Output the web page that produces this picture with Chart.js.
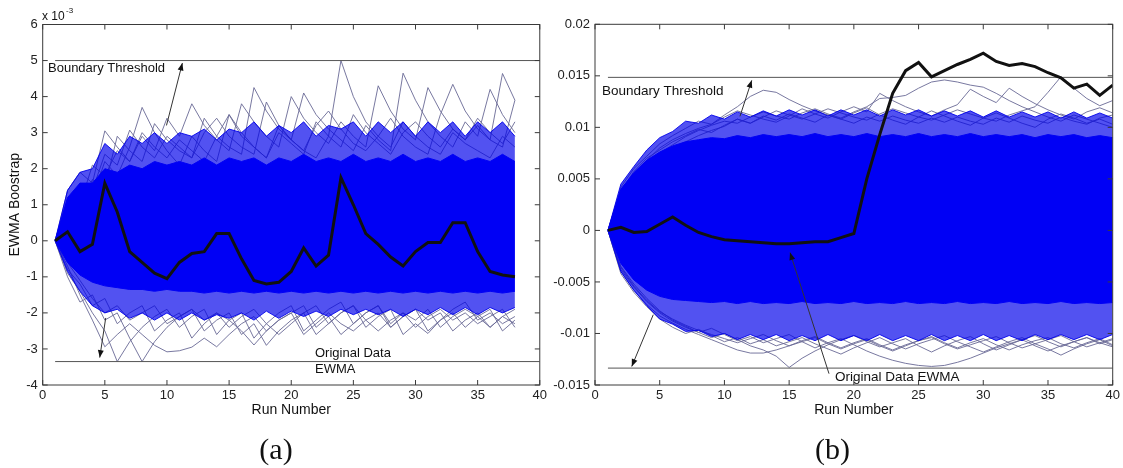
<!DOCTYPE html>
<html><head><meta charset="utf-8">
<script src="https://cdn.jsdelivr.net/npm/chart.js@4.4.1/dist/chart.umd.min.js"></script>
<style>
html,body{margin:0;padding:0;background:#fff;width:1123px;height:468px;overflow:hidden}
#wa{position:absolute;left:0;top:0;width:550px;height:468px}
#wb{position:absolute;left:550px;top:0;width:573px;height:468px}
</style></head><body>
<div id="wa"><canvas id="ca"></canvas></div>
<div id="wb"><canvas id="cb"></canvas></div>
<script>
// ---------- Panel (a) data (values x 1e-3) ----------
const runsA = [1,2,3,4,5,6,7,8,9,10,11,12,13,14,15,16,17,18,19,20,21,22,23,24,25,26,27,28,29,30,31,32,33,34,35,36,37,38];
const ewmaA = [0,0.25,-0.3,-0.1,1.6,0.8,-0.3,-0.6,-0.9,-1.05,-0.6,-0.35,-0.3,0.2,0.2,-0.5,-1.1,-1.2,-1.15,-0.85,-0.2,-0.7,-0.4,1.75,1.0,0.2,-0.1,-0.45,-0.7,-0.3,-0.05,-0.05,0.5,0.5,-0.3,-0.85,-0.95,-1.0];
const thresholdsA = [5.0, -3.35];
const coreHiA = [0,1.2,1.6,1.6,2.0,1.9,2.1,2.0,2.2,2.1,2.2,2.1,2.3,2.1,2.3,2.2,2.3,2.1,2.3,2.2,2.4,2.2,2.3,2.2,2.4,2.2,2.3,2.2,2.4,2.2,2.3,2.2,2.4,2.2,2.3,2.2,2.4,2.2];
const coreLoA = [0,-0.6,-0.95,-1.15,-1.25,-1.3,-1.35,-1.35,-1.4,-1.35,-1.4,-1.4,-1.45,-1.4,-1.45,-1.4,-1.45,-1.4,-1.45,-1.4,-1.45,-1.4,-1.45,-1.4,-1.45,-1.4,-1.45,-1.4,-1.45,-1.4,-1.45,-1.4,-1.45,-1.4,-1.45,-1.4,-1.45,-1.4];
const fringeHiA = [0,1.4,1.9,2.0,2.7,2.4,2.9,2.7,3.0,2.7,3.0,2.9,3.1,2.8,3.1,3.0,3.3,2.9,3.2,3.0,3.3,2.9,3.2,3.1,3.3,2.9,3.3,3.0,3.3,2.9,3.3,3.0,3.3,2.9,3.3,3.0,3.3,2.9];
const fringeLoA = [0,-0.85,-1.4,-1.8,-2.0,-1.9,-2.15,-2.0,-2.2,-2.0,-2.2,-2.0,-2.2,-2.05,-2.15,-2.0,-2.2,-1.95,-2.15,-1.95,-2.1,-1.95,-2.1,-1.9,-2.05,-1.9,-2.05,-1.9,-2.1,-1.9,-2.05,-1.85,-2.05,-1.85,-2.05,-1.85,-2.0,-1.85];
const upA1 = [0,0.9,1.4,1.2,2.2,1.8,2.6,3.7,3.0,2.5,2.1,2.9,2.5,2.2,3.5,2.9,2.6,2.3,3.2,2.8,2.5,2.3,2.9,5.0,4.0,3.3,2.9,2.6,3.3,2.9,2.6,2.4,3.0,2.7,2.5,2.3,2.9,2.6];
const upA2 = [0,1.4,1.9,1.6,3.05,2.6,2.2,2.9,2.5,3.4,2.9,3.8,3.2,2.8,2.5,3.8,3.3,2.9,2.6,4.0,3.4,3.0,2.7,3.3,2.9,2.6,4.3,3.6,3.1,2.8,4.25,3.6,3.1,2.8,3.2,2.8,2.6,3.9];
const upA3 = [0,1.1,0.9,1.7,1.5,2.9,2.5,2.2,3.25,2.8,2.5,2.3,3.4,2.9,2.6,2.4,4.25,3.6,3.1,2.8,4.1,3.5,3.1,2.8,2.5,3.2,2.8,2.5,4.65,3.9,3.3,2.9,2.6,3.3,2.9,4.2,3.5,3.0];
const upA4 = [0,0.8,1.6,1.4,2.4,2.1,3.07,2.6,2.3,2.9,2.6,2.3,3.0,3.4,2.9,2.6,2.4,3.85,3.2,2.8,2.5,3.2,3.6,3.1,2.7,2.5,2.9,3.4,2.9,2.6,2.4,3.5,4.34,3.6,3.1,2.8,4.64,3.9];
const upA5 = [0,1.2,1.0,2.1,1.8,2.5,2.2,3.0,2.6,2.3,2.8,2.5,2.2,2.9,3.5,3.0,2.6,2.3,3.0,2.7,2.4,3.3,2.9,2.6,3.5,3.0,2.7,2.4,3.0,3.3,2.9,2.6,3.1,2.8,3.4,3.0,2.7,3.3];
const loA1 = [0,-0.9,-1.4,-2.0,-2.5,-3.35,-2.8,-2.4,-2.1,-1.9,-2.4,-2.1,-1.9,-2.6,-2.2,-2.0,-2.7,-2.3,-2.0,-1.8,-2.5,-2.2,-1.9,-1.7,-2.3,-2.0,-1.8,-2.4,-2.1,-1.9,-2.5,-2.2,-1.9,-1.7,-2.2,-2.0,-2.3,-2.1];
const loA2 = [0,-1.0,-1.7,-1.5,-2.2,-2.0,-2.7,-3.35,-2.8,-2.4,-2.1,-1.9,-2.5,-2.2,-2.0,-2.6,-2.3,-2.9,-2.5,-2.2,-2.0,-2.6,-2.3,-2.0,-1.8,-2.4,-2.1,-1.9,-2.6,-2.3,-2.57,-2.2,-2.0,-2.4,-2.1,-1.9,-2.5,-2.2];
const loA3 = [0,-0.7,-1.5,-2.2,-2.94,-2.6,-2.3,-2.6,-2.9,-3.08,-3.05,-2.95,-2.7,-2.94,-2.6,-2.3,-2.1,-2.5,-2.2,-2.0,-2.6,-2.3,-2.0,-2.3,-2.5,-2.2,-2.0,-2.4,-2.1,-1.9,-2.2,-2.0,-2.5,-2.2,-2.0,-2.4,-2.1,-2.3];
const loA4 = [0,-0.8,-1.2,-1.8,-1.6,-2.3,-2.0,-1.8,-2.5,-2.2,-2.0,-2.7,-2.3,-2.0,-2.2,-2.5,-2.89,-2.5,-2.2,-2.0,-1.8,-2.4,-2.1,-2.6,-2.3,-2.0,-1.8,-2.3,-2.0,-2.2,-1.9,-2.4,-2.1,-1.9,-2.1,-2.4,-2.1,-1.9];
const loA5 = [0,-0.6,-1.1,-1.6,-2.0,-1.8,-2.2,-2.0,-1.8,-2.3,-2.1,-1.9,-2.2,-2.0,-2.4,-2.1,-1.9,-2.3,-2.6,-2.3,-2.0,-1.8,-2.3,-2.0,-1.8,-2.2,-2.5,-2.2,-2.0,-2.4,-2.1,-1.9,-2.2,-2.0,-2.3,-2.1,-1.9,-2.4];

// ---------- Panel (b) data ----------
const runsB = [1,2,3,4,5,6,7,8,9,10,11,12,13,14,15,16,17,18,19,20,21,22,23,24,25,26,27,28,29,30,31,32,33,34,35,36,37,38,39,40];
const ewmaB = [0,0.0003,-0.0002,-0.0001,0.0006,0.0013,0.0005,-0.0002,-0.0006,-0.0009,-0.001,-0.0011,-0.0012,-0.0013,-0.0013,-0.0012,-0.0011,-0.0011,-0.0007,-0.0003,0.0050,0.0093,0.0133,0.0155,0.0163,0.0149,0.0155,0.0161,0.0166,0.0172,0.0164,0.0160,0.0162,0.0159,0.0153,0.0148,0.0138,0.0142,0.0131,0.0141];
const thresholdsB = [0.01485, -0.01336];
const coreHiB = [0,0.0040,0.0056,0.0068,0.0076,0.0082,0.0086,0.0088,0.0090,0.0089,0.0092,0.0090,0.0093,0.0091,0.0093,0.0091,0.0094,0.0091,0.0093,0.0091,0.0094,0.0091,0.0093,0.0091,0.0094,0.0091,0.0093,0.0091,0.0094,0.0091,0.0093,0.0091,0.0093,0.0090,0.0093,0.0091,0.0093,0.0090,0.0092,0.0090];
const coreLoB = [0,-0.0032,-0.0048,-0.0058,-0.0064,-0.0067,-0.0068,-0.0069,-0.0070,-0.0069,-0.0071,-0.0069,-0.0071,-0.0070,-0.0071,-0.0069,-0.0071,-0.0070,-0.0071,-0.0069,-0.0071,-0.0070,-0.0071,-0.0069,-0.0071,-0.0070,-0.0071,-0.0069,-0.0071,-0.0070,-0.0071,-0.0069,-0.0071,-0.0070,-0.0071,-0.0069,-0.0071,-0.0070,-0.0071,-0.0070];
const fringeHiB = [0,0.0045,0.0062,0.0078,0.0090,0.0096,0.0106,0.0104,0.0112,0.0108,0.0115,0.0110,0.0116,0.0111,0.0117,0.0112,0.0117,0.0111,0.0117,0.0112,0.0117,0.0111,0.0117,0.0112,0.0117,0.0111,0.0116,0.0111,0.0116,0.0110,0.0116,0.0110,0.0115,0.0110,0.0115,0.0109,0.0115,0.0109,0.0114,0.0109];
const fringeLoB = [0,-0.0040,-0.0058,-0.0073,-0.0086,-0.0091,-0.0098,-0.0097,-0.0103,-0.0100,-0.0106,-0.0101,-0.0106,-0.0101,-0.0107,-0.0102,-0.0107,-0.0101,-0.0107,-0.0102,-0.0107,-0.0101,-0.0107,-0.0102,-0.0107,-0.0101,-0.0107,-0.0102,-0.0107,-0.0101,-0.0107,-0.0102,-0.0107,-0.0101,-0.0106,-0.0101,-0.0106,-0.0101,-0.0106,-0.0101];
const upB1 = [0,0.004,0.0055,0.0068,0.008,0.0088,0.0094,0.0099,0.0103,0.0112,0.0120,0.0130,0.0136,0.0134,0.0127,0.0121,0.0116,0.0112,0.0108,0.0114,0.0119,0.0112,0.0107,0.0103,0.0110,0.0116,0.0111,0.0106,0.0102,0.0109,0.0114,0.0109,0.0104,0.0100,0.0108,0.0113,0.0109,0.0104,0.0108,0.0103];
const upB2 = [0,0.0035,0.0050,0.0064,0.0075,0.0083,0.0091,0.0097,0.0102,0.0106,0.0104,0.0110,0.0115,0.0111,0.0108,0.0114,0.0118,0.0113,0.0109,0.0115,0.0120,0.0128,0.0129,0.0131,0.0138,0.0144,0.0146,0.0144,0.0141,0.0139,0.0133,0.0126,0.0120,0.0115,0.0110,0.0106,0.0112,0.0108,0.0104,0.0100];
const upB3 = [0,0.0030,0.0048,0.0060,0.0072,0.0080,0.0086,0.0092,0.0097,0.0101,0.0108,0.0104,0.0110,0.0116,0.0112,0.0108,0.0113,0.0118,0.0114,0.0110,0.0107,0.0113,0.0118,0.0114,0.0110,0.0107,0.0112,0.0117,0.0113,0.0109,0.0106,0.0112,0.0116,0.0120,0.0134,0.0149,0.0138,0.0128,0.0121,0.0126];
const upB4 = [0,0.0042,0.0060,0.0072,0.0084,0.0092,0.0099,0.0106,0.0103,0.0110,0.0116,0.0112,0.0108,0.0105,0.0111,0.0118,0.0113,0.0109,0.0115,0.0120,0.0115,0.0133,0.0126,0.0120,0.0115,0.0111,0.0117,0.0122,0.0137,0.0130,0.0124,0.0138,0.0130,0.0123,0.0117,0.0112,0.0108,0.0115,0.0119,0.0114];
const upB5 = [0,0.0038,0.0057,0.0070,0.0078,0.0086,0.0092,0.0098,0.0095,0.0102,0.0108,0.0104,0.0111,0.0107,0.0113,0.0109,0.0105,0.0112,0.0108,0.0104,0.0110,0.0106,0.0111,0.0107,0.0104,0.0109,0.0105,0.0110,0.0106,0.0103,0.0109,0.0105,0.0111,0.0107,0.0104,0.0110,0.0106,0.0103,0.0109,0.0112];
const loB1 = [0,-0.004,-0.0058,-0.0072,-0.0083,-0.0090,-0.0096,-0.0101,-0.0106,-0.0111,-0.0116,-0.0119,-0.0119,-0.0116,-0.0112,-0.0108,-0.0104,-0.0110,-0.0115,-0.0110,-0.0106,-0.0112,-0.0117,-0.0112,-0.0107,-0.0103,-0.0109,-0.0114,-0.0109,-0.0105,-0.0111,-0.0116,-0.0111,-0.0107,-0.0104,-0.0110,-0.0114,-0.0109,-0.0105,-0.0111];
const loB2 = [0,-0.0035,-0.0052,-0.0066,-0.0078,-0.0087,-0.0093,-0.0099,-0.0104,-0.0100,-0.0106,-0.0112,-0.0116,-0.0122,-0.0133,-0.0124,-0.0117,-0.0111,-0.0106,-0.0102,-0.0108,-0.0113,-0.0109,-0.0105,-0.0112,-0.0118,-0.0112,-0.0107,-0.0103,-0.0110,-0.0116,-0.0111,-0.0106,-0.0102,-0.0108,-0.0113,-0.0108,-0.0104,-0.0110,-0.0106];
const loB3 = [0,-0.0038,-0.0055,-0.0069,-0.0080,-0.0088,-0.0094,-0.0099,-0.0095,-0.0101,-0.0107,-0.0103,-0.0109,-0.0105,-0.0101,-0.0108,-0.0114,-0.0109,-0.0105,-0.0111,-0.0117,-0.0122,-0.0126,-0.0129,-0.0131,-0.0132,-0.0131,-0.0128,-0.0124,-0.0119,-0.0114,-0.0110,-0.0106,-0.0112,-0.0117,-0.0112,-0.0108,-0.0104,-0.0109,-0.0113];
const loB4 = [0,-0.0042,-0.0060,-0.0074,-0.0086,-0.0094,-0.0100,-0.0096,-0.0102,-0.0108,-0.0104,-0.0110,-0.0106,-0.0112,-0.0108,-0.0104,-0.0110,-0.0115,-0.0120,-0.0114,-0.0109,-0.0104,-0.0110,-0.0115,-0.0110,-0.0106,-0.0102,-0.0108,-0.0113,-0.0118,-0.0113,-0.0108,-0.0104,-0.0110,-0.0115,-0.0121,-0.0115,-0.0110,-0.0106,-0.0112];
const loB5 = [0,-0.0036,-0.0054,-0.0068,-0.0079,-0.0086,-0.0092,-0.0097,-0.0101,-0.0105,-0.0109,-0.0105,-0.0101,-0.0107,-0.0112,-0.0107,-0.0103,-0.0109,-0.0114,-0.0109,-0.0105,-0.0111,-0.0116,-0.0111,-0.0107,-0.0104,-0.0110,-0.0115,-0.0111,-0.0107,-0.0103,-0.0109,-0.0114,-0.0110,-0.0106,-0.0102,-0.0108,-0.0113,-0.0109,-0.0105];

const thresholdX = [1, 40];
const xTicks = [0, 40, 5];

// ---------- styling ----------
const FONT = "'Liberation Sans', Arial, sans-serif";
const BLUE = 'rgb(0,0,245)';
const FRINGE = 'rgba(0,0,235,0.68)';
const OUT = 'rgba(105,105,150,0.9)';

function series(xs, ys, opts) {
  return Object.assign({
    data: xs.map((x, i) => ({x: x, y: ys[i]})),
    pointRadius: 0, borderWidth: 1, tension: 0, fill: false
  }, opts);
}

function buildDatasets(runs, ewma, thr, coreHi, coreLo, frHi, frLo, outs) {
  const ds = [
    series(runs, ewma, {borderColor: '#111', borderWidth: 3, order: 0}),
    series(thresholdX, [thr[0], thr[0]], {borderColor: '#555', order: 1}),
    series(thresholdX, [thr[1], thr[1]], {borderColor: '#555', order: 1}),
    series(runs, coreHi, {borderColor: BLUE, backgroundColor: BLUE, fill: 4, order: 3}),
    series(runs, coreLo, {borderColor: BLUE, order: 3}),
    series(runs, frHi, {borderColor: 'rgba(0,0,235,0.9)', backgroundColor: FRINGE, fill: 6, order: 5}),
    series(runs, frLo, {borderColor: 'rgba(0,0,235,0.9)', order: 5})
  ];
  outs.forEach(o => ds.push(series(runs, o, {borderColor: OUT, order: 7})));
  return ds;
}

const framePlugin = {
  id: 'frame',
  afterDraw(chart, args, opts) {
    const {ctx, chartArea: a, scales: {x, y}} = chart;
    ctx.save();
    ctx.strokeStyle = '#3a3a3a';
    ctx.lineWidth = 1;
    ctx.strokeRect(a.left, a.top, a.right - a.left, a.bottom - a.top);
    const L = 5;
    ctx.beginPath();
    x.ticks.forEach(t => {
      const p = x.getPixelForValue(t.value);
      ctx.moveTo(p, a.bottom); ctx.lineTo(p, a.bottom - L);
      ctx.moveTo(p, a.top); ctx.lineTo(p, a.top + L);
    });
    y.ticks.forEach(t => {
      const p = y.getPixelForValue(t.value);
      ctx.moveTo(a.left, p); ctx.lineTo(a.left + L, p);
      ctx.moveTo(a.right, p); ctx.lineTo(a.right - L, p);
    });
    ctx.stroke();
    (opts.arrows || []).forEach(ar => {
      const x0 = x.getPixelForValue(ar[0]), y0 = y.getPixelForValue(ar[1]);
      const x1 = x.getPixelForValue(ar[2]), y1 = y.getPixelForValue(ar[3]);
      ctx.strokeStyle = '#333'; ctx.fillStyle = '#111'; ctx.lineWidth = 1;
      ctx.beginPath(); ctx.moveTo(x0, y0); ctx.lineTo(x1, y1); ctx.stroke();
      const ang = Math.atan2(y1 - y0, x1 - x0), hl = 8, hw = 0.38;
      ctx.beginPath();
      ctx.moveTo(x1, y1);
      ctx.lineTo(x1 - hl * Math.cos(ang - hw), y1 - hl * Math.sin(ang - hw));
      ctx.lineTo(x1 - hl * Math.cos(ang + hw), y1 - hl * Math.sin(ang + hw));
      ctx.closePath(); ctx.fill();
    });
    (opts.texts || []).forEach(t => {
      ctx.font = t.font;
      ctx.fillStyle = t.color || '#111';
      ctx.textAlign = t.align || 'left';
      ctx.textBaseline = 'middle';
      ctx.fillText(t.text, t.x, t.y);
    });
    ctx.restore();
  }
};

function makeChart(id, datasets, yMin, yMax, yStep, yWidth, pad, yTitle, yFmt, annot) {
  return new Chart(document.getElementById(id), {
    type: 'line',
    data: {datasets: datasets},
    plugins: [framePlugin],
    options: {
      responsive: true, maintainAspectRatio: false, animation: false, devicePixelRatio: 1,
      layout: {padding: pad},
      plugins: {legend: {display: false}, tooltip: {enabled: false}, frame: annot},
      scales: {
        x: {
          type: 'linear', min: xTicks[0], max: xTicks[1],
          afterFit: s => { s.height = 34; },
          grid: {display: false, drawTicks: false}, border: {display: false},
          ticks: {stepSize: xTicks[2], padding: 3, maxRotation: 0, autoSkip: false,
                  font: {family: FONT, size: 13}, color: '#222'},
          title: {display: true, text: 'Run Number', font: {family: FONT, size: 14}, color: '#111',
                  padding: {top: 0, bottom: 0}}
        },
        y: {
          type: 'linear', min: yMin, max: yMax,
          afterFit: s => { s.width = yWidth; },
          grid: {display: false, drawTicks: false}, border: {display: false},
          ticks: {stepSize: yStep, padding: 5, autoSkip: false,
                  font: {family: FONT, size: 13}, color: '#222', callback: yFmt},
          title: {display: !!yTitle, text: yTitle || '', font: {family: FONT, size: 14}, color: '#111',
                  padding: {top: 7, bottom: 0}}
        }
      }
    }
  });
}

makeChart('ca',
  buildDatasets(runsA, ewmaA, thresholdsA, coreHiA, coreLoA, fringeHiA, fringeLoA,
                [upA1, upA2, upA3, upA4, upA5, loA1, loA2, loA3, loA4, loA5]),
  -4, 6, 1, 42.7, {left: 0, right: 8.3, top: 24.5, bottom: 49}, 'EWMA Boostrap',
  v => String(v),
  {
    arrows: [[9.96, 3.2, 11.24, 4.93], [5.07, -2.14, 4.59, -3.24]],
    texts: [
      {text: 'Boundary Threshold', x: 48, y: 68, font: `13px ${FONT}`},
      {text: 'Original Data', x: 315, y: 353, font: `13px ${FONT}`},
      {text: 'EWMA', x: 315, y: 369, font: `13px ${FONT}`},
      {text: 'x 10', x: 42, y: 17, font: `12px ${FONT}`},
      {text: '-3', x: 66, y: 11, font: `8px ${FONT}`},
      {text: '(a)', x: 276, y: 451, align: 'center', font: "30px 'Liberation Serif', 'Times New Roman', serif"}
    ]
  });

makeChart('cb',
  buildDatasets(runsB, ewmaB, thresholdsB, coreHiB, coreLoB, fringeHiB, fringeLoB,
                [upB1, upB2, upB3, upB4, upB5, loB1, loB2, loB3, loB4, loB5]),
  -0.015, 0.02, 0.005, 45, {left: 0, right: 10.3, top: 24.3, bottom: 49}, null,
  v => String(+Number(v).toFixed(3)),
  {
    arrows: [[11.2, 0.01107, 12.11, 0.01456], [4.5, -0.00818, 2.84, -0.0132], [18.08, -0.0139, 15.07, -0.00215]],
    texts: [
      {text: 'Boundary Threshold', x: 52, y: 91, font: `13.5px ${FONT}`},
      {text: 'Original Data EWMA', x: 285, y: 377, font: `13.5px ${FONT}`},
      {text: '(b)', x: 282.5, y: 451, align: 'center', font: "30px 'Liberation Serif', 'Times New Roman', serif"}
    ]
  });
</script>
</body></html>
